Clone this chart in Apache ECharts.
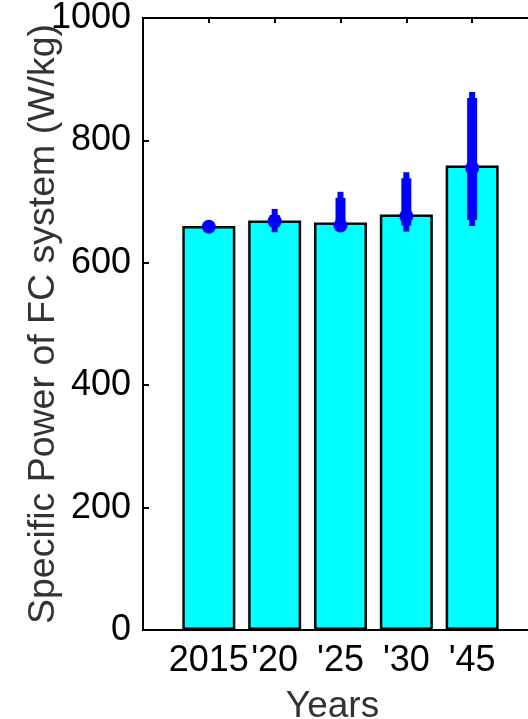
<!DOCTYPE html>
<html>
<head>
<meta charset="utf-8">
<script src="https://cdn.jsdelivr.net/npm/echarts@6/dist/echarts.min.js"></script>
<style>html,body{margin:0;padding:0;background:#fff;}#chart{width:528px;height:719px;}</style>
</head>
<body>
<div id="chart"></div>
<script>
// Data
var categories = ['2015', "'20", "'25", "'30", "'45"];
var barValues = [660, 669, 666, 679, 759];
var meanValues = [659, 668, 661, 676, 755];
var lowValues = [659, 650, 655, 651, 660];
var highValues = [659, 688, 716, 748, 879];
var yTicks = [0, 200, 400, 600, 800, 1000];

var FONT = '"Liberation Sans", Arial, Helvetica, sans-serif';
var barData = barValues.map(function (v, i) { return [i + 1, v]; });
var errData = categories.map(function (c, i) { return [i + 1, lowValues[i], highValues[i], meanValues[i]]; });

var chart = echarts.init(document.getElementById('chart'), null, { renderer: 'canvas' });
chart.setOption({
  animation: false,
  backgroundColor: '#fff',
  grid: { left: 143, top: 18, right: -10, bottom: 89, containLabel: false, outerBoundsMode: 'none' },
  xAxis: [{
    type: 'value', min: 0, max: 6, interval: 1, position: 'bottom',
    name: 'Years', nameLocation: 'middle', nameGap: 58, nameMoveOverlap: false,
    nameTextStyle: { fontFamily: FONT, fontSize: 37, color: '#333', padding: [0, 16, 0, 0] },
    axisLine: { show: true, lineStyle: { color: '#000', width: 2 } },
    axisTick: { show: false },
    splitLine: { show: false },
    axisLabel: {
      fontFamily: FONT, fontSize: 36, color: '#000', margin: 13,
      formatter: function (v) { return categories[v - 1] || ''; }
    }
  }, {
    type: 'value', min: 0, max: 6, interval: 1, position: 'top',
    axisLine: { show: true, lineStyle: { color: '#000', width: 2 } },
    axisTick: { show: true, inside: true, length: 5, lineStyle: { color: '#000', width: 2 } },
    axisLabel: { show: false },
    splitLine: { show: false }
  }],
  yAxis: {
    type: 'value', min: 0, max: 1000, interval: 200,
    name: 'Specific Power of FC system (W/kg)', nameLocation: 'middle', nameGap: 80, nameMoveOverlap: false,
    nameTextStyle: { fontFamily: FONT, fontSize: 37.5, color: '#333' },
    axisLine: { show: true, lineStyle: { color: '#000', width: 2 } },
    axisTick: { show: true, inside: true, length: 6, lineStyle: { color: '#000', width: 2 } },
    splitLine: { show: false },
    axisLabel: {
      fontFamily: FONT, fontSize: 36, color: '#000', margin: 12,
      formatter: function (v) { return yTicks.indexOf(v) >= 0 ? String(v) : ''; }
    }
  },
  series: [{
    type: 'bar',
    data: barData,
    barWidth: 53,
    itemStyle: { color: '#00ffff', borderColor: '#000', borderWidth: 2.5 },
    z: 2
  }, {
    type: 'custom',
    data: errData,
    z: 5,
    renderItem: function (params, api) {
      var x = api.value(0);
      var pLow = api.coord([x, api.value(1)]);
      var pHigh = api.coord([x, api.value(2)]);
      var pMean = api.coord([x, api.value(3)]);
      var children = [];
      var span = pLow[1] - pHigh[1];
      if (span > 1) {
        children.push({ type: 'line', shape: { x1: pLow[0], y1: pLow[1], x2: pHigh[0], y2: pHigh[1] },
          style: { stroke: '#0000ff', lineWidth: 6 } });
        if (span > 12) {
          children.push({ type: 'rect', shape: { x: pLow[0] - 5, y: pHigh[1] + 6, width: 10, height: span - 12 },
            style: { fill: '#0000ff' } });
        }
      }
      children.push({ type: 'circle', shape: { cx: pMean[0], cy: pMean[1], r: 7 }, style: { fill: '#0000ff' } });
      return { type: 'group', children: children };
    }
  }]
});
</script>
</body>
</html>
